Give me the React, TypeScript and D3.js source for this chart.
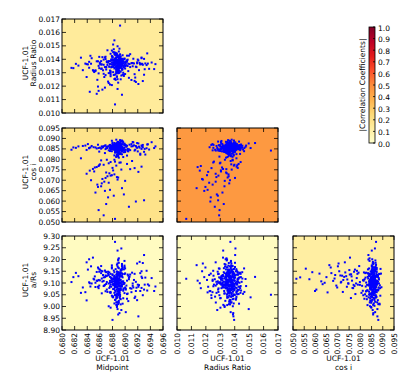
import * as d3 from "d3";

// posterior samples (same draw index across arrays)
const midpoint = [
  0.6889, 0.6885, 0.6893, 0.6887, 0.6891, 0.6878, 0.6896, 0.6884, 0.689, 0.6888,
  0.6872, 0.6894, 0.6886, 0.6899, 0.6883, 0.689, 0.6912, 0.6887, 0.6881, 0.6892,
  0.6889, 0.686, 0.6895, 0.6884, 0.6926, 0.6888, 0.6891, 0.6876, 0.6893, 0.6886,
  0.6845, 0.689, 0.6887, 0.6897, 0.6882, 0.6921, 0.6889, 0.6885, 0.6868, 0.6894,
  0.6891, 0.6883, 0.693, 0.6888, 0.6886, 0.6902, 0.689, 0.6837, 0.6887, 0.6893,
  0.6884, 0.6889, 0.6918, 0.6892, 0.688, 0.6886, 0.6895, 0.6855, 0.6889, 0.689,
  0.6908, 0.6887, 0.6883, 0.6928, 0.6891, 0.6888, 0.687, 0.6894, 0.6885, 0.6942,
  0.6889, 0.6822, 0.6892, 0.6886, 0.6917, 0.689, 0.6884, 0.6899, 0.6888, 0.6863,
  0.6893, 0.6887, 0.6924, 0.6881, 0.689, 0.6889, 0.685, 0.6895, 0.6886, 0.6934,
  0.6888, 0.6891, 0.6877, 0.6884, 0.6906, 0.6889, 0.6892, 0.6815, 0.6887, 0.692,
  0.6885, 0.689, 0.6895, 0.6866, 0.6888, 0.6928, 0.6883, 0.6891, 0.6889, 0.6903,
  0.6841, 0.6887, 0.6894, 0.6886, 0.6915, 0.689, 0.688, 0.6888, 0.6948, 0.6892,
  0.6889, 0.6874, 0.6885, 0.6922, 0.6893, 0.6887, 0.6858, 0.689, 0.6896, 0.6883,
  0.691, 0.6888, 0.683, 0.6891, 0.6886, 0.6932, 0.6889, 0.6884, 0.6869, 0.6893,
  0.6887, 0.6916, 0.689, 0.6853, 0.6888, 0.6895, 0.6882, 0.6926, 0.6889, 0.6879,
  0.6892, 0.6886, 0.6938, 0.6889, 0.6847, 0.6891, 0.6887, 0.69, 0.6885, 0.6919,
  0.689, 0.6864, 0.6888, 0.6894, 0.6826, 0.6886, 0.6913, 0.6889, 0.6883, 0.6897,
  0.6888, 0.6931, 0.6875, 0.6891, 0.6887, 0.6843, 0.689, 0.6924, 0.6886, 0.6892,
  0.6862, 0.6889, 0.6905, 0.6884, 0.689, 0.6936, 0.6888, 0.6871, 0.6893, 0.6818,
  0.6887, 0.6923, 0.6891, 0.6857, 0.6889, 0.6886, 0.6914, 0.689, 0.6839, 0.6888,
  0.6881, 0.6897, 0.6879, 0.6901, 0.6886, 0.6893, 0.6877, 0.689, 0.6899, 0.6884,
  0.6895, 0.688, 0.6892, 0.6887, 0.6903, 0.6883, 0.6889, 0.6876, 0.6896, 0.6891,
  0.6878, 0.69, 0.6885, 0.6894, 0.6882, 0.6898, 0.6888, 0.6879, 0.6893, 0.6904,
  0.6886, 0.6873, 0.6897, 0.689, 0.6881, 0.6907, 0.6884, 0.6895, 0.6869, 0.6889,
  0.6901, 0.6887, 0.6876, 0.6892, 0.6898, 0.6883, 0.691, 0.688, 0.6894, 0.6885,
  0.689, 0.6904, 0.6882, 0.6865, 0.6896, 0.6888, 0.6879, 0.6899, 0.6886, 0.6927,
  0.6843, 0.6891, 0.6899, 0.6885, 0.6877, 0.6893, 0.6919, 0.6887, 0.6882, 0.6896,
  0.6889, 0.6878, 0.6935, 0.6894, 0.6884, 0.6901, 0.6888, 0.6859, 0.6892, 0.688,
  0.6897, 0.6883, 0.689, 0.6912, 0.6879, 0.6886, 0.6895, 0.6881, 0.6946, 0.6888,
  0.6884, 0.6899, 0.6833, 0.6887, 0.6893, 0.6876, 0.689, 0.6905, 0.6885, 0.6868,
  0.6852, 0.6871, 0.6893, 0.6866, 0.6908, 0.6879, 0.6846, 0.6898, 0.6862, 0.6917,
  0.6884, 0.6858, 0.6926, 0.6874, 0.6889, 0.6839, 0.6903, 0.6868, 0.6881, 0.6911,
  0.6856, 0.6895, 0.6872, 0.693, 0.6864, 0.6886, 0.6849, 0.6906, 0.6877, 0.6921,
  0.686, 0.6891, 0.6844, 0.6875, 0.6915, 0.6869, 0.6882, 0.6857, 0.69, 0.6866,
  0.6873, 0.6853, 0.6888, 0.6863, 0.6877, 0.6859, 0.6884, 0.687, 0.6855, 0.6894,
  0.6867, 0.688, 0.6851, 0.6876, 0.6862, 0.6887, 0.687, 0.6858, 0.6883, 0.6874,
];

const radiusRatio = [
  0.0136, 0.01448, 0.01352, 0.01393, 0.01338, 0.01399, 0.01285, 0.01367, 0.01376, 0.0132,
  0.01467, 0.01392, 0.01415, 0.01356, 0.01374, 0.01362, 0.01371, 0.0133, 0.01343, 0.01381,
  0.01345, 0.01366, 0.01387, 0.01434, 0.01408, 0.01328, 0.01357, 0.01299, 0.01351, 0.01379,
  0.01426, 0.01372, 0.01337, 0.0135, 0.0136, 0.01391, 0.01364, 0.01247, 0.01414, 0.01383,
  0.01314, 0.01541, 0.01403, 0.01396, 0.01388, 0.01356, 0.01378, 0.01368, 0.01329, 0.01345,
  0.01369, 0.01307, 0.01342, 0.01651, 0.01361, 0.01373, 0.01395, 0.01385, 0.0142, 0.01352,
  0.01438, 0.01348, 0.01332, 0.01359, 0.01412, 0.01384, 0.01343, 0.01279, 0.01366, 0.01376,
  0.01352, 0.01366, 0.01358, 0.01378, 0.01345, 0.01372, 0.01384, 0.01402, 0.01391, 0.01331,
  0.01368, 0.01375, 0.01363, 0.01394, 0.0134, 0.01296, 0.01313, 0.01322, 0.01411, 0.01357,
  0.01305, 0.01361, 0.01274, 0.0137, 0.01427, 0.01388, 0.01354, 0.01336, 0.01349, 0.01398,
  0.01441, 0.01325, 0.01381, 0.01359, 0.01418, 0.01238, 0.01367, 0.01374, 0.01347, 0.01392,
  0.01362, 0.01376, 0.01405, 0.01327, 0.01289, 0.01335, 0.01396, 0.0135, 0.01364, 0.01419,
  0.01379, 0.01387, 0.01341, 0.01319, 0.01308, 0.01443, 0.01351, 0.0136, 0.01373, 0.01452,
  0.01371, 0.01344, 0.01412, 0.01433, 0.01385, 0.01369, 0.01226, 0.01397, 0.01282, 0.01356,
  0.01348, 0.01264, 0.01397, 0.01317, 0.0138, 0.01353, 0.01475, 0.01366, 0.01339, 0.01424,
  0.01437, 0.01346, 0.01329, 0.01362, 0.01408, 0.01383, 0.01342, 0.0129, 0.01359, 0.01377,
  0.01337, 0.01416, 0.01374, 0.01389, 0.01353, 0.0131, 0.01404, 0.01365, 0.01393, 0.013,
  0.01497, 0.01326, 0.01346, 0.01355, 0.01429, 0.01381, 0.01343, 0.01363, 0.0137, 0.01395,
  0.01361, 0.0135, 0.01312, 0.01401, 0.01458, 0.01368, 0.01252, 0.01378, 0.01386, 0.01334,
  0.01303, 0.01373, 0.0139, 0.01385, 0.01316, 0.01345, 0.01369, 0.01422, 0.01364, 0.01357,
  0.01348, 0.01386, 0.01465, 0.01353, 0.01395, 0.01369, 0.01301, 0.01422, 0.01378, 0.0134,
  0.01333, 0.01415, 0.01367, 0.01269, 0.01382, 0.0144, 0.01358, 0.01316, 0.01403, 0.01374,
  0.01392, 0.01347, 0.01408, 0.01355, 0.01379, 0.01288, 0.01426, 0.01362, 0.01336, 0.01397,
  0.01321, 0.01375, 0.01397, 0.01343, 0.0151, 0.01364, 0.01386, 0.0133, 0.01419, 0.01351,
  0.01384, 0.01306, 0.01365, 0.0141, 0.01339, 0.01392, 0.01246, 0.01377, 0.0136, 0.01433,
  0.01402, 0.0135, 0.01371, 0.01318, 0.0143, 0.01383, 0.01345, 0.01406, 0.01294, 0.01366,
  0.01337, 0.01479, 0.01359, 0.01388, 0.01311, 0.01421, 0.0137, 0.01352, 0.01398, 0.01325,
  0.01381, 0.0134, 0.01444, 0.01363, 0.01286, 0.01372, 0.01395, 0.01334, 0.01357, 0.01412,
  0.01369, 0.01253, 0.01417, 0.01348, 0.01376, 0.01302, 0.01361, 0.01453, 0.01327, 0.01389,
  0.01401, 0.01374, 0.01319, 0.01432, 0.01356, 0.01385, 0.01298, 0.01367, 0.01411, 0.01342,
  0.01312, 0.01385, 0.01251, 0.01398, 0.01342, 0.01208, 0.01367, 0.01276, 0.01329, 0.01231,
  0.01064, 0.01295, 0.01413, 0.01223, 0.01351, 0.01268, 0.01427, 0.01189, 0.01304, 0.01372,
  0.01247, 0.01136, 0.01358, 0.01285, 0.01174, 0.01394, 0.01319, 0.01262, 0.01441, 0.01216,
  0.01376, 0.01301, 0.01158, 0.01345, 0.01239, 0.01402, 0.01283, 0.01197, 0.01331, 0.01292,
  0.01234, 0.01315, 0.01179, 0.01362, 0.01287, 0.01418, 0.01256, 0.0134, 0.01143, 0.01379,
  0.01268, 0.01421, 0.01305, 0.01212, 0.01386, 0.01273, 0.01324, 0.01165, 0.01357, 0.01297,
];

const cosI = [
  0.088, 0.0858, 0.0867, 0.0821, 0.0846, 0.0855, 0.0885, 0.0832, 0.0864, 0.0851,
  0.0854, 0.0871, 0.0861, 0.0869, 0.0819, 0.0877, 0.0863, 0.0848, 0.0856, 0.0828,
  0.0867, 0.0856, 0.0853, 0.0862, 0.0866, 0.0842, 0.0837, 0.084, 0.085, 0.0894,
  0.0857, 0.0849, 0.087, 0.0811, 0.086, 0.0876, 0.0879, 0.0843, 0.0865, 0.0859,
  0.0874, 0.0878, 0.0836, 0.0834, 0.0851, 0.086, 0.0847, 0.0866, 0.0863, 0.0855,
  0.0863, 0.0848, 0.0859, 0.0842, 0.0857, 0.0847, 0.089, 0.0852, 0.0861, 0.0869,
  0.0844, 0.0868, 0.0798, 0.0858, 0.0825, 0.0861, 0.0853, 0.0855, 0.0839, 0.0882,
  0.0846, 0.0855, 0.085, 0.0875, 0.0864, 0.0859, 0.0849, 0.0867, 0.0833, 0.0862,
  0.0886, 0.0872, 0.0827, 0.086, 0.0808, 0.0865, 0.0858, 0.0841, 0.0845, 0.0853,
  0.0883, 0.0851, 0.0864, 0.087, 0.0848, 0.0857, 0.0892, 0.0846, 0.0866, 0.0838,
  0.085, 0.0854, 0.084, 0.0863, 0.0867, 0.0869, 0.0845, 0.0857, 0.0836, 0.0818,
  0.0873, 0.0859, 0.0865, 0.0835, 0.0842, 0.0851, 0.088, 0.0844, 0.0862, 0.0853,
  0.0848, 0.0843, 0.0856, 0.0861, 0.0888, 0.0866, 0.0854, 0.0831, 0.0873, 0.0856,
  0.0862, 0.0877, 0.0805, 0.0868, 0.0812, 0.0823, 0.0858, 0.0871, 0.0849, 0.0852,
  0.0832, 0.0846, 0.0879, 0.0857, 0.0854, 0.0837, 0.086, 0.085, 0.0884, 0.0863,
  0.0826, 0.0839, 0.0847, 0.0866, 0.0864, 0.0858, 0.0861, 0.0868, 0.0874, 0.0855,
  0.0869, 0.0856, 0.0815, 0.0851, 0.0862, 0.0853, 0.0881, 0.0865, 0.086, 0.0844,
  0.0876, 0.085, 0.0866, 0.0859, 0.0857, 0.0854, 0.0841, 0.0822, 0.0862, 0.0848,
  0.0851, 0.0863, 0.0838, 0.0843, 0.0847, 0.0872, 0.0855, 0.086, 0.0829, 0.0857,
  0.0849, 0.0856, 0.0858, 0.087, 0.0853, 0.0864, 0.0867, 0.0852, 0.0845, 0.0861,
  0.087, 0.0853, 0.0839, 0.0867, 0.0858, 0.0887, 0.0849, 0.0862, 0.0855, 0.0844,
  0.0851, 0.0874, 0.086, 0.0842, 0.0865, 0.0857, 0.0816, 0.0869, 0.0848, 0.0879,
  0.0866, 0.0835, 0.0853, 0.0872, 0.0859, 0.0847, 0.0863, 0.0889, 0.0852, 0.084,
  0.0857, 0.0862, 0.0881, 0.0848, 0.0854, 0.087, 0.0843, 0.0858, 0.0867, 0.0826,
  0.0845, 0.0877, 0.0852, 0.0861, 0.0834, 0.0856, 0.0873, 0.085, 0.0863, 0.0868,
  0.0868, 0.085, 0.0847, 0.0859, 0.0885, 0.0844, 0.0856, 0.0875, 0.0813, 0.0861,
  0.0853, 0.0866, 0.0872, 0.0839, 0.086, 0.0851, 0.0878, 0.0846, 0.0864, 0.0857,
  0.0862, 0.0849, 0.0871, 0.0855, 0.0843, 0.0866, 0.0858, 0.0837, 0.0878, 0.0852,
  0.0846, 0.0869, 0.0857, 0.0883, 0.0851, 0.086, 0.0824, 0.0865, 0.0854, 0.0873,
  0.0859, 0.0841, 0.0864, 0.085, 0.0876, 0.0856, 0.0868, 0.0845, 0.0861, 0.083,
  0.0761, 0.0798, 0.0785, 0.0774, 0.0753, 0.0724, 0.07, 0.0632, 0.0671, 0.0598,
  0.0515, 0.0557, 0.0765, 0.0688, 0.0713, 0.0731, 0.0778, 0.0649, 0.0747, 0.0792,
  0.0679, 0.0662, 0.0719, 0.0604, 0.0706, 0.077, 0.0754, 0.0573, 0.0787, 0.074,
  0.0776, 0.0784, 0.0746, 0.0733, 0.0758, 0.0711, 0.0626, 0.0668, 0.0697, 0.0532,
  0.0618, 0.0641, 0.0703, 0.0685, 0.0722, 0.0772, 0.0789, 0.0737, 0.0763, 0.0751,
  0.0693, 0.0759, 0.0742, 0.0654, 0.0795, 0.0715, 0.0586, 0.0768, 0.0728, 0.0781,
];

const aRs = [
  9.01, 9.105, 9.156, 9.052, 9.077, 9.119, 9.138, 9.068, 9.091, 9.238,
  9.062, 9.128, 9.096, 9.174, 9.116, 9.132, 9.088, 8.998, 9.107, 9.044,
  9.196, 9.111, 9.14, 9.124, 9.15, 9.055, 9.039, 9.102, 9.073, 9.082,
  9.085, 9.016, 9.178, 9.067, 9.09, 8.958, 9.106, 9.114, 9.153, 9.13,
  9.11, 9.126, 9.219, 9.141, 9.045, 9.089, 9.075, 9.061, 9.003, 9.098,
  9.028, 9.093, 9.08, 9.05, 9.133, 9.102, 9.16, 9.147, 9.117, 9.07,
  9.078, 9.037, 9.092, 9.185, 9.064, 9.137, 9.096, 8.985, 9.108, 9.121,
  9.097, 9.143, 9.112, 9.018, 9.105, 9.059, 9.083, 9.168, 9.126, 9.056,
  9.009, 9.041, 9.066, 9.074, 9.088, 9.1, 9.118, 9.129, 9.135, 9.152,
  9.115, 9.057, 9.058, 9.275, 9.122, 8.966, 9.14, 9.104, 9.081, 9.093,
  9.087, 9.163, 9.094, 9.109, 9.097, 9.048, 9.076, 9.127, 9.2, 9.033,
  9.157, 9.103, 9.247, 9.119, 9.139, 9.024, 8.943, 9.111, 9.085, 9.071,
  9.053, 9.001, 9.099, 9.091, 9.078, 9.125, 9.113, 9.069, 9.164, 9.146,
  9.076, 9.134, 9.058, 9.101, 9.112, 9.123, 9.065, 9.095, 9.148, 9.087,
  9.006, 9.042, 9.069, 9.083, 9.171, 9.092, 9.117, 9.127, 9.139, 9.104,
  9.144, 9.051, 9.089, 9.02, 9.098, 9.074, 9.115, 9.162, 9.108, 9.183,
  9.097, 9.106, 9.11, 9.158, 9.129, 9.12, 9.081, 9.047, 9.013, 9.035,
  8.989, 9.093, 9.079, 9.06, 9.071, 9.103, 9.205, 9.142, 9.118, 9.136,
  9.152, 9.166, 9.131, 9.109, 9.054, 9.094, 9.086, 9.072, 9.031, 9.125,
  9.121, 9.19, 8.972, 9.084, 9.1, 9.099, 9.113, 9.145, 9.026, 9.063,
  9.043, 9.101, 9.162, 9.076, 9.122, 9.09, 8.995, 9.135, 9.057, 9.114,
  9.17, 9.093, 9.132, 9.017, 9.11, 9.058, 9.145, 9.086, 9.124, 9.069,
  9.084, 9.141, 9.029, 9.105, 9.153, 9.077, 9.118, 9.046, 9.099, 9.136,
  9.007, 9.148, 9.073, 9.116, 9.039, 9.127, 9.088, 9.181, 9.065, 9.102,
  9.072, 9.128, 9.109, 9.034, 9.158, 9.096, 9.061, 9.117, 9.142, 9.083,
  9.186, 9.055, 9.091, 9.134, 9.012, 9.079, 9.167, 9.1, 9.048, 9.121,
  9.201, 9.087, 9.138, 9.063, 9.094, 9.113, 9.027, 9.149, 9.075, 9.106,
  9.095, 9.123, 9.068, 9.154, 9.101, 8.976, 9.112, 9.089, 9.13, 9.041,
  9.107, 9.131, 9.052, 9.098, 9.175, 9.036, 9.085, 9.119, 9.066, 9.147,
  9.049, 9.194, 9.081, 9.14, 9.07, 9.126, 9.103, 9.023, 9.159, 9.092,
  9.128, 9.104, 9.152, 9.087, 9.136, 9.113, 9.171, 9.095, 9.142, 9.066,
  9.118, 9.161, 9.079, 9.134, 9.102, 9.188, 9.053, 9.125, 9.097, 9.144,
  9.109, 9.176, 9.131, 9.072, 9.15, 9.092, 9.208, 9.116, 9.139, 9.084,
  9.157, 9.121, 9.099, 9.145, 9.036, 9.132, 9.107, 9.166, 9.081, 9.124,
  9.14, 9.101, 9.183, 9.119, 9.062, 9.148, 9.093, 9.129, 9.11, 9.155,
  9.089, 9.137, 9.115, 9.06, 9.172, 9.105, 9.146, 9.078, 9.126, 9.098,
];

const midpointTicks = [0.68, 0.682, 0.684, 0.686, 0.688, 0.69, 0.692, 0.694, 0.696];
const radiusTicks = [0.01, 0.011, 0.012, 0.013, 0.014, 0.015, 0.016, 0.017];
const cosTicks = [0.05, 0.055, 0.06, 0.065, 0.07, 0.075, 0.08, 0.085, 0.09, 0.095];
const aRsTicks = [8.9, 8.95, 9.0, 9.05, 9.1, 9.15, 9.2, 9.25, 9.3];
const colorTicks = [0, 0.1, 0.2, 0.3, 0.4, 0.5, 0.6, 0.7, 0.8, 0.9, 1.0];

// |correlation| per panel, row by row (lower triangle)
const correlations = [[0.14], [0.19, 0.46], [0.03, 0.03, 0.12]];

// matplotlib YlOrRd
const ylOrRd = ["#ffffcc", "#ffeda0", "#fed976", "#feb24c", "#fd8d3c", "#fc4e2a", "#e31a1c", "#bd0026", "#800026"];

const params = [
  { name: "Midpoint", values: midpoint, ticks: midpointTicks, fmt: ".3f" },
  { name: "Radius Ratio", values: radiusRatio, ticks: radiusTicks, fmt: ".3f" },
  { name: "cos i", values: cosI, ticks: cosTicks, fmt: ".3f" },
  { name: "a/Rs", values: aRs, ticks: aRsTicks, fmt: ".2f" },
];

const W = 415;
const H = 389;
const colX = [62, 177, 293];
const rowY = [19, 128, 236];
const pw = 101;
const ph = 94;
const font = "DejaVu Sans";
const fs = 7.5;

const color = d3
  .scaleLinear<string>()
  .domain(ylOrRd.map((_, i) => i / (ylOrRd.length - 1)))
  .range(ylOrRd);

function Panel({ row, col }: { row: number; col: number }) {
  const px = params[col];
  const py = params[row + 1];
  const x0 = colX[col];
  const y0 = rowY[row];
  const x = d3
    .scaleLinear()
    .domain(d3.extent(px.ticks) as [number, number])
    .range([x0, x0 + pw]);
  const y = d3
    .scaleLinear()
    .domain(d3.extent(py.ticks) as [number, number])
    .range([y0 + ph, y0]);
  const tick = 4;
  const isLeft = col === 0;
  const isBottom = row === 2;
  const bg = color(correlations[row][col]);

  return (
    <g>
      <rect x={x0} y={y0} width={pw} height={ph} fill={bg} />
      {px.values.map((v, i) => (
        <rect
          key={i}
          x={x(v) - 1}
          y={y(py.values[i]) - 1}
          width={2}
          height={2}
          fill="#0000ff"
        />
      ))}
      {px.ticks.map((t) => (
        <g key={"x" + t}>
          <line x1={x(t)} x2={x(t)} y1={y0 + ph} y2={y0 + ph - tick} stroke="#000" strokeWidth={0.8} />
          <line x1={x(t)} x2={x(t)} y1={y0} y2={y0 + tick} stroke="#000" strokeWidth={0.8} />
          {isBottom && (
            <text
              transform={`translate(${x(t)},${y0 + ph + 3}) rotate(-90)`}
              textAnchor="end"
              dominantBaseline="central"
              fontFamily={font}
              fontSize={fs}
            >
              {d3.format(px.fmt)(t)}
            </text>
          )}
        </g>
      ))}
      {py.ticks.map((t) => (
        <g key={"y" + t}>
          <line x1={x0} x2={x0 + tick} y1={y(t)} y2={y(t)} stroke="#000" strokeWidth={0.8} />
          <line x1={x0 + pw} x2={x0 + pw - tick} y1={y(t)} y2={y(t)} stroke="#000" strokeWidth={0.8} />
          {isLeft && (
            <text
              x={x0 - 2}
              y={y(t)}
              textAnchor="end"
              dominantBaseline="central"
              fontFamily={font}
              fontSize={fs}
            >
              {d3.format(py.fmt)(t)}
            </text>
          )}
        </g>
      ))}
      <rect x={x0} y={y0} width={pw} height={ph} fill="none" stroke="#000" strokeWidth={1} />
      {isLeft && (
        <g transform={`translate(29,${y0 + ph / 2 - 3}) rotate(-90)`} fontFamily={font} fontSize={fs} textAnchor="middle">
          <text y={-4} dominantBaseline="central">UCF-1.01</text>
          <text y={4.5} dominantBaseline="central">{py.name}</text>
        </g>
      )}
      {isBottom && (
        <g fontFamily={font} fontSize={fs} textAnchor="middle">
          <text x={x0 + pw / 2} y={358} dominantBaseline="central">UCF-1.01</text>
          <text x={x0 + pw / 2} y={367} dominantBaseline="central">{px.name}</text>
        </g>
      )}
    </g>
  );
}

function ColorBar() {
  const bx = 369;
  const bw = 6;
  const top = 27;
  const bottom = 143;
  const y = d3.scaleLinear().domain([0, 1]).range([bottom, top]);
  return (
    <g>
      <defs>
        <linearGradient id="cbar" x1="0" y1="1" x2="0" y2="0">
          {ylOrRd.map((c, i) => (
            <stop key={i} offset={i / (ylOrRd.length - 1)} stopColor={c} />
          ))}
        </linearGradient>
      </defs>
      <rect x={bx} y={top} width={bw} height={bottom - top} fill="url(#cbar)" stroke="#000" strokeWidth={0.8} />
      {colorTicks.map((t) => (
        <g key={t}>
          <line x1={bx + bw} x2={bx + bw - 2} y1={y(t)} y2={y(t)} stroke="#000" strokeWidth={0.8} />
          <text
            x={bx + bw + 3}
            y={y(t) + 1}
            dominantBaseline="central"
            fontFamily={font}
            fontSize={fs}
          >
            {d3.format(".1f")(t)}
          </text>
        </g>
      ))}
      <text
        transform={`translate(362,${(top + bottom) / 2}) rotate(-90)`}
        textAnchor="middle"
        dominantBaseline="central"
        fontFamily={font}
        fontSize={fs}
      >
        |Correlation Coefficients|
      </text>
    </g>
  );
}

export default function App() {
  const cells: { row: number; col: number }[] = [];
  for (let row = 0; row < 3; row++) {
    for (let col = 0; col <= row; col++) cells.push({ row, col });
  }
  return (
    <svg
      width={W}
      height={H}
      style={{ position: "absolute", left: 0, top: 0, background: "#fff" }}
    >
      {cells.map((c) => (
        <Panel key={`${c.row}-${c.col}`} row={c.row} col={c.col} />
      ))}
      <ColorBar />
    </svg>
  );
}
